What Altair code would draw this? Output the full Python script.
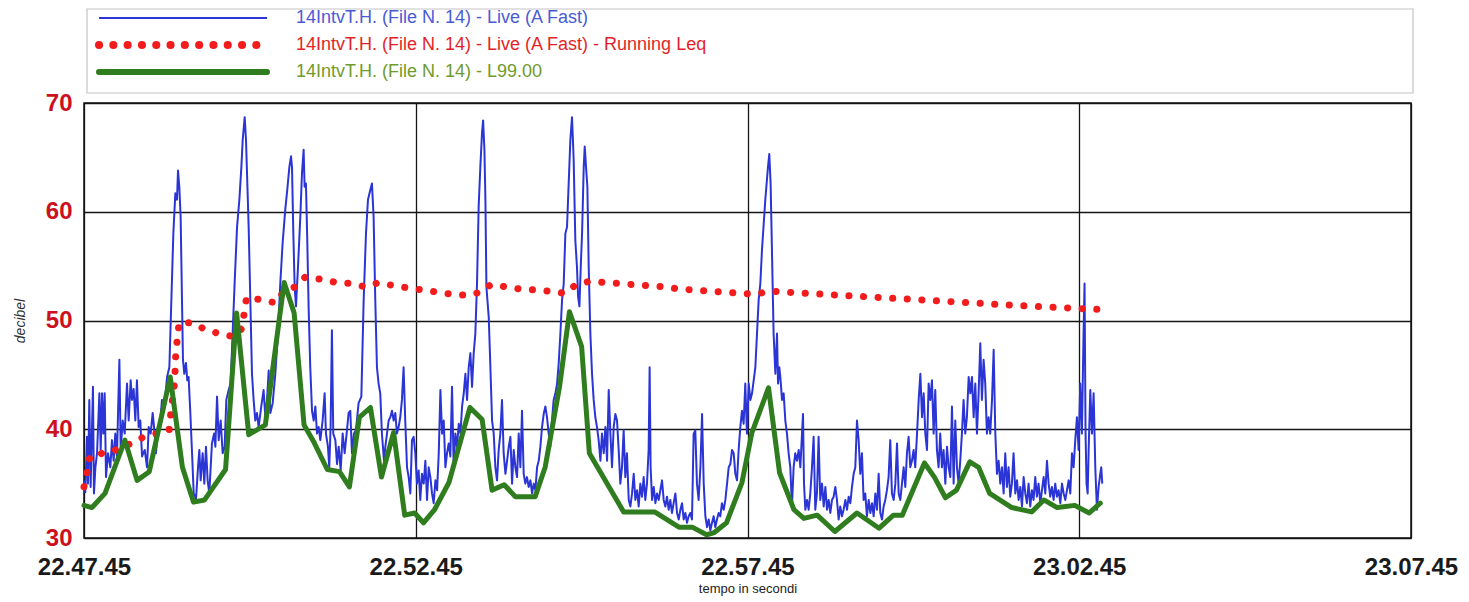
import json
import altair as alt
import pandas as pd

# ---------------- data ----------------
series_names = [
    "14IntvT.H. (File N. 14) - Live (A Fast)",
    "14IntvT.H. (File N. 14) - Live (A Fast) - Running Leq",
    "14IntvT.H. (File N. 14) - L99.00",
]
tick_seconds = [0, 300, 600, 900, 1200]
tick_labels = ["22.47.45", "22.52.45", "22.57.45", "23.02.45", "23.07.45"]
db_ticks = [30, 40, 50, 60, 70]

# (seconds from 22.47.45, dB)
live_fast = [
    (0, 35.3), (1.2, 34.2), (2.7, 39.3), (3.6, 35.0), (4.8, 42.7), (6.0, 34.7), (8.1, 43.9), (9.0, 34.1),
    (10.3, 36.5), (11.8, 37.8), (13.9, 43.3), (15.1, 38.1), (16.3, 43.3), (17.5, 39.6), (18.7, 43.3),
    (19.9, 35.6), (21.7, 37.8), (23.8, 36.5), (25.3, 39.0), (26.8, 37.1), (28.3, 39.6), (29.8, 37.5),
    (32.0, 46.4), (33.2, 38.1), (35.0, 40.8), (36.8, 39.6), (38.9, 44.2), (40.4, 40.8), (42.2, 44.5),
    (43.4, 42.7), (44.9, 43.7), (46.4, 40.8), (47.9, 44.5), (49.4, 40.2), (50.9, 40.8), (52.5, 37.5),
    (54.9, 38.1), (57.0, 36.5), (58.5, 40.2), (60.3, 39.6), (62.1, 41.5), (63.9, 39.6), (65.1, 37.8),
    (66.9, 40.2), (69.0, 40.8), (70.5, 42.7), (73.0, 42.4), (75.1, 44.8), (77.2, 45.7), (79.0, 51.9),
    (80.8, 58.0), (82.6, 61.7), (84.1, 61.1), (85.0, 63.8), (86.2, 62.3), (87.4, 59.5), (88.6, 51.9),
    (89.5, 46.4), (90.7, 45.1), (92.2, 46.1), (93.4, 44.5), (94.6, 44.8), (96.2, 41.4), (97.7, 37.8),
    (99.2, 34.1), (101.3, 33.6), (103.1, 36.5), (104.3, 38.1), (105.5, 35.3), (107.3, 37.8), (108.8, 35.0),
    (110.3, 38.4), (111.8, 35.3), (113.3, 34.1), (115.7, 38.7), (117.6, 39.6), (118.8, 38.4), (120.3, 43.0),
    (121.8, 39.0), (123.6, 40.8), (125.4, 37.8), (127.2, 38.4), (128.7, 42.7), (130.8, 43.6), (132.6, 44.2),
    (134.4, 48.8), (136.2, 53.4), (138.4, 58.6), (140.5, 61.1), (142.3, 64.1), (143.5, 66.6), (145.3, 68.7),
    (146.5, 66.6), (147.7, 62.6), (148.9, 58.6), (150.4, 51.9), (151.9, 45.1), (153.4, 42.7),
    (154.9, 40.8), (156.4, 41.5), (157.9, 40.2), (160.3, 42.1), (162.4, 43.6), (164.0, 41.1), (165.5, 42.7),
    (167.0, 45.4), (168.5, 41.5), (170.6, 42.4), (173.0, 45.1), (175.4, 48.8), (177.5, 53.4), (179.6, 57.1),
    (182.0, 60.2), (183.8, 62.0), (185.7, 64.1), (187.2, 65.1), (188.1, 64.1), (189.3, 58.0), (190.5, 53.1),
    (191.7, 51.3), (193.5, 54.9), (195.6, 59.5), (197.1, 63.5), (198.6, 65.7), (199.5, 62.3), (200.7, 62.6),
    (201.9, 57.4), (203.1, 51.3), (204.6, 45.7), (206.2, 41.7), (207.7, 40.8), (209.2, 42.1), (210.7, 39.6),
    (212.2, 40.2), (213.7, 39.0), (215.8, 40.8), (217.6, 43.3), (218.8, 39.6), (220.6, 38.4), (221.8, 36.5),
    (223.0, 40.2), (224.2, 49.1), (225.4, 39.6), (227.3, 39.0), (228.8, 36.8), (230.3, 38.4), (232.1, 36.2),
    (233.9, 39.6), (235.7, 37.8), (237.5, 39.6), (239.3, 41.5), (240.8, 41.7), (242.3, 37.8), (244.1, 39.6),
    (245.9, 39.9), (248.3, 42.4), (250.8, 43.0), (252.9, 51.9), (255.0, 58.0), (256.8, 61.1), (258.9, 62.0),
    (260.4, 62.6), (261.9, 59.5), (263.4, 51.9), (264.9, 45.7), (266.4, 44.2), (267.9, 43.3), (269.4, 39.6),
    (271.3, 37.1), (272.5, 38.4), (274.0, 39.6), (275.5, 40.8), (277.0, 41.1), (278.5, 41.7), (280.0, 40.8),
    (281.5, 41.5), (283.0, 39.6), (284.5, 40.2), (286.0, 41.1), (287.5, 42.7), (289.0, 45.7), (290.5, 40.8),
    (292.1, 36.5), (293.6, 35.6), (295.1, 34.1), (296.6, 39.0), (298.1, 39.3), (299.6, 37.8), (301.1, 35.0),
    (302.6, 36.2), (304.1, 33.5), (305.6, 35.9),
    (307.2, 35.0), (308.7, 37.1), (310.2, 33.5), (311.7, 36.5), (313.2, 35.6), (314.7, 34.1), (316.2, 33.2),
    (317.8, 35.3), (319.3, 34.4), (320.8, 37.8), (322.3, 43.6), (323.8, 39.6), (325.3, 40.8), (326.8, 36.5),
    (328.3, 37.8), (329.8, 38.7), (331.3, 37.5), (332.8, 43.9), (334.3, 36.5), (335.8, 39.6), (337.3, 38.4),
    (338.9, 40.5), (340.4, 39.6), (341.9, 42.1), (343.4, 43.3), (344.9, 45.1), (346.4, 42.7), (347.9, 45.7),
    (349.4, 47.0), (350.9, 43.9), (352.4, 47.0), (353.9, 48.8), (355.4, 53.4), (356.9, 60.5), (358.4, 64.1),
    (359.9, 67.2), (360.9, 68.4), (362.1, 65.7), (363.0, 61.1), (363.9, 53.1), (364.8, 51.9), (366.0, 50.3),
    (367.5, 45.7), (369.0, 40.8), (370.5, 39.6), (372.0, 36.5), (373.5, 35.3), (375.0, 38.1), (376.5, 39.6),
    (378.0, 42.7), (379.5, 37.8), (381.1, 35.9), (382.6, 37.1), (384.1, 38.4), (385.6, 39.3), (387.1, 35.0),
    (388.6, 38.1), (390.1, 36.5), (391.6, 35.6), (393.1, 39.6), (394.6, 36.5), (396.1, 41.7), (397.6, 35.9),
    (399.1, 35.0), (400.6, 35.6), (402.1, 34.7), (403.7, 35.3), (405.2, 34.1), (406.7, 35.0), (408.2, 34.4),
    (409.7, 36.5), (411.2, 37.1), (412.7, 38.4), (414.2, 40.2), (415.7, 41.4), (417.2, 42.1), (418.7, 41.1),
    (420.2, 39.6), (421.7, 38.4), (423.2, 40.8), (424.7, 42.7), (426.3, 43.3), (427.8, 44.2), (429.3, 46.1),
    (430.8, 48.8), (432.3, 51.9), (433.8, 53.4), (435.3, 58.0), (436.8, 58.6), (438.3, 62.6), (439.8, 66.6),
    (441.3, 68.7), (442.8, 64.8), (444.3, 57.4), (445.8, 54.9), (446.8, 52.2), (448.0, 51.3), (449.2, 54.9),
    (450.4, 58.0), (451.9, 64.1), (452.8, 66.0), (454.0, 64.1), (455.2, 62.3), (456.4, 54.9), (457.9, 48.8),
    (459.4, 45.1), (460.9, 42.7),
    (462.4, 41.1), (463.9, 40.2), (465.4, 39.0), (467.0, 37.1), (468.4, 39.6), (470.0, 37.8), (471.5, 40.2),
    (473.0, 37.1), (474.5, 43.6), (476.0, 39.6), (477.5, 36.5), (479.0, 40.2), (480.5, 41.4), (482.0, 40.8),
    (483.5, 38.1), (485.0, 35.0), (486.5, 36.5), (488.0, 39.9), (489.5, 35.6), (491.0, 37.8), (492.6, 33.5),
    (494.1, 32.9), (495.6, 34.1), (497.1, 35.9), (498.6, 33.5), (500.1, 34.4), (501.6, 32.9), (503.1, 35.0),
    (504.6, 33.8), (506.1, 35.6), (507.6, 33.5), (509.1, 35.0), (510.6, 38.1), (511.5, 45.7), (512.4, 36.5),
    (513.7, 33.5), (515.2, 34.7), (516.7, 33.2), (518.2, 34.1), (519.7, 33.5), (521.2, 34.4), (522.7, 35.3),
    (524.2, 33.5), (525.7, 32.9), (527.2, 33.8), (528.7, 32.6), (530.2, 33.5), (531.7, 32.3), (533.2, 33.2),
    (534.8, 34.1), (536.3, 32.3), (537.8, 31.7), (539.3, 32.6), (540.8, 33.2), (542.3, 31.7), (543.8, 32.3),
    (545.3, 31.4), (546.8, 32.0), (548.3, 32.3), (549.8, 31.7), (551.3, 39.6), (552.8, 39.9), (554.3, 35.0),
    (555.8, 33.5), (557.4, 36.5), (558.9, 41.4), (560.4, 35.0), (561.9, 32.0), (563.4, 31.0), (564.9, 31.7),
    (566.4, 30.7), (567.9, 31.4), (569.4, 32.0), (570.9, 31.0), (572.4, 31.7), (573.9, 32.3), (575.4, 32.0),
    (576.9, 33.2), (578.5, 32.6), (580.0, 33.5), (581.5, 35.0), (583.0, 36.5), (584.5, 36.8), (586.0, 38.1),
    (587.5, 37.8), (589.0, 35.9), (590.5, 35.3), (592.0, 38.1), (593.5, 40.2), (595.0, 41.7), (596.5, 40.5),
    (598.0, 44.2), (599.5, 39.6), (601.1, 44.2), (602.6, 42.7), (604.1, 43.3), (607.1, 45.7), (608.6, 48.8),
    (610.1, 51.9), (611.6, 53.4), (613.1, 56.5),
    (616.1, 61.1), (618.5, 64.1), (619.7, 65.3), (620.9, 62.6), (622.1, 56.5), (623.6, 48.8), (625.2, 45.1),
    (626.7, 48.8), (627.6, 44.2), (628.8, 45.7), (629.7, 44.8), (631.2, 42.7), (632.7, 43.3), (634.2, 40.8),
    (635.7, 39.6), (637.2, 37.8), (638.7, 36.5), (640.2, 32.9), (641.7, 36.5), (643.2, 37.8), (644.7, 37.1),
    (646.3, 38.1), (647.8, 36.5), (649.3, 39.6), (650.2, 41.4), (651.1, 35.0), (652.3, 32.6), (653.8, 33.5),
    (655.3, 32.6), (656.8, 34.1), (658.3, 36.5), (659.8, 39.3), (661.3, 32.6), (662.8, 34.1), (664.3, 39.3),
    (665.8, 33.5), (667.4, 35.0), (668.9, 32.9), (670.4, 34.7), (671.9, 32.6), (673.4, 33.5), (674.9, 32.3),
    (676.4, 33.5), (677.9, 33.8), (679.4, 34.7), (680.9, 33.5), (682.4, 31.7), (683.9, 32.9), (685.4, 32.0),
    (686.9, 32.6), (688.5, 33.5), (690.0, 32.6), (691.5, 33.8), (693.0, 33.2), (694.5, 34.7), (696.0, 35.9),
    (697.5, 36.5), (699.0, 40.8), (700.5, 39.0), (702.0, 35.9), (703.5, 37.8), (705.0, 33.5), (706.5, 34.1),
    (708.0, 32.0), (709.6, 33.5), (711.1, 32.3), (712.6, 33.2), (714.1, 32.0), (715.6, 34.1), (717.1, 32.6),
    (718.6, 35.9), (720.1, 32.3), (721.6, 31.7), (723.1, 32.9), (724.6, 33.5), (726.1, 34.4), (727.6, 35.6),
    (729.1, 39.0), (730.6, 34.1), (732.2, 33.5), (733.7, 35.0), (735.2, 38.7), (736.7, 34.1), (738.2, 33.5),
    (739.7, 35.0), (741.2, 36.5), (742.7, 34.7), (744.2, 37.8), (745.7, 39.3), (747.2, 36.5), (748.7, 37.1),
    (750.2, 38.1), (751.7, 36.5), (753.3, 39.6), (754.8, 42.7), (756.3, 45.1), (757.8, 41.1), (759.3, 43.3),
    (760.8, 39.6), (762.3, 38.1), (763.8, 44.2), (765.3, 42.7), (766.8, 44.5),
    (768.3, 39.6), (769.8, 43.6), (771.3, 38.1), (772.8, 36.5), (774.3, 39.6), (775.8, 36.5), (777.3, 38.1),
    (778.9, 35.0), (780.4, 38.4), (781.9, 36.5), (783.4, 35.6), (784.9, 42.1), (786.4, 35.0), (787.9, 40.8),
    (789.4, 36.5), (790.9, 35.0), (792.4, 37.1), (793.9, 39.6), (795.4, 42.7), (796.9, 39.6), (798.4, 41.1),
    (800.0, 44.8), (801.5, 43.3), (803.0, 44.8), (804.5, 41.1), (806.0, 44.2), (807.5, 39.6), (809.0, 43.3),
    (810.5, 47.9), (812.0, 42.7), (813.5, 46.4), (815.0, 44.2), (816.5, 39.6), (818.0, 41.1), (819.5, 39.6),
    (821.1, 42.7), (822.6, 47.3), (824.1, 39.6), (825.6, 35.9), (827.1, 37.1), (828.6, 35.0), (830.1, 36.5),
    (831.6, 34.1), (833.1, 37.8), (834.6, 34.7), (836.1, 36.5), (837.6, 33.8), (839.1, 35.0), (840.6, 37.8),
    (842.2, 34.1), (843.7, 35.3), (845.2, 33.5), (846.7, 34.7), (848.2, 32.9), (849.7, 35.6), (851.2, 34.1),
    (852.7, 33.2), (854.2, 35.0), (855.7, 32.9), (857.2, 34.4), (858.7, 33.5), (860.2, 35.6), (861.7, 33.8),
    (863.2, 35.0), (864.8, 33.2), (866.3, 34.4), (867.8, 35.6), (869.3, 34.1), (870.8, 37.1), (872.3, 35.0),
    (873.8, 33.8), (875.3, 34.7), (876.8, 33.5), (878.3, 35.0), (879.8, 33.8), (881.3, 34.4), (882.9, 33.2),
    (884.4, 35.0), (885.9, 34.1), (887.4, 33.5), (888.9, 34.4), (890.4, 35.3), (891.9, 34.1), (893.4, 37.8),
    (894.9, 36.5), (896.4, 39.0), (897.9, 41.1), (899.4, 38.1), (900.9, 44.2), (902.4, 39.6), (903.9, 48.8),
    (904.8, 53.4), (905.7, 39.6), (906.6, 35.0), (907.6, 34.1), (908.5, 38.1), (910.0, 43.6), (911.5, 39.6),
    (913.0, 43.3), (914.5, 36.5), (916.0, 32.6), (917.5, 34.7), (919.0, 35.9), (919.9, 36.5), (920.8, 35.0),
]

running_leq = [
    (0, 34.7), (2.7, 36.0), (4.5, 37.3), (10, 37.2), (16, 37.8), (24, 37.9), (45, 38.8), (54, 39.3),
    (77, 39.9), (78.5, 41.5), (82, 44.3), (83, 47.0), (86, 49.8), (98, 49.8), (109, 49.2), (122, 48.8),
    (136, 48.5), (143, 49.3), (145, 50.8), (147, 52.1), (161, 51.9), (174, 51.6), (180, 52.6), (191, 53.1),
    (200, 54.0), (214, 53.8), (228, 53.5), (241, 53.4), (254, 53.1), (267, 53.5), (280, 53.2), (293, 53.0),
    (307, 52.8), (320, 52.6), (334, 52.4), (347, 52.3), (358, 52.6), (368, 53.3), (381, 53.1), (394, 52.9),
    (408, 52.8), (420, 52.7), (435, 52.5), (445, 53.3), (457, 53.6), (470, 53.5), (484, 53.4), (497, 53.3),
    (511, 53.2), (524, 53.1), (538, 52.9), (552, 52.8), (566, 52.7), (580, 52.6), (594, 52.5), (607, 52.4),
    (619, 52.7), (687, 52.3), (756, 51.9), (840, 51.4), (921, 51.0),
]

l99 = [
    (0, 33.0), (7.2, 32.8), (19, 34.1), (37, 39.0), (48, 35.3), (59, 36.1), (78, 44.8), (89, 36.5),
    (99, 33.3), (109, 33.5), (128, 36.3), (138, 50.7), (149, 39.5), (164, 40.4), (181, 53.5), (190, 50.7),
    (199, 40.4), (208, 38.8), (220, 36.3), (231, 36.1), (240, 34.7), (249, 41.1), (259, 42.0), (269, 35.6),
    (280, 39.7), (290, 32.1), (299, 32.3), (307, 31.4), (317, 32.6), (330, 35.1), (349, 42.0), (360, 40.9),
    (369, 34.4), (380, 34.9), (390, 33.8), (408, 33.8), (417, 36.5), (430, 43.9), (439, 50.8), (450, 47.6),
    (457, 37.8), (488, 32.4), (516, 32.4), (538, 31.0), (550, 31.0), (563, 30.3), (570, 30.5), (581, 31.4),
    (595, 35.1), (604, 39.7), (619, 43.8), (629, 36.0), (642, 32.6), (651, 31.8), (663, 32.1), (679, 30.6),
    (699, 32.3), (719, 30.9), (732, 32.1), (740, 32.1), (760, 36.9), (769, 35.6), (779, 33.7), (789, 34.4),
    (801, 37.0), (809, 36.5), (819, 34.1), (839, 32.8), (857, 32.4), (868, 33.5), (880, 32.8), (896, 33.0),
    (909, 32.3), (919, 33.2),
]

# ---------------- styles ----------------
series_colors = ["#2b35d6", "#f21c1c", "#2f7d1e"]
label_colors = ["#4a5bd6", "#e41f28", "#6f9a2c"]
FONT = "Liberation Sans, Arial, Helvetica, sans-serif"

rows = []
for name, pts in zip(series_names, [live_fast, running_leq, l99]):
    for t, v in pts:
        rows.append({"series": name, "t": t, "db": v})
df = pd.DataFrame(rows)
legend_df = pd.DataFrame({"series": series_names})

color_scale = alt.Scale(domain=series_names, range=series_colors)
label_expr = "%s[indexof(%s, datum.value)]" % (json.dumps(tick_labels), json.dumps(tick_seconds))

x_enc = alt.X(
    "t:Q",
    scale=alt.Scale(domain=[0, 1200], nice=False, zero=False),
    axis=alt.Axis(
        values=tick_seconds, labelExpr=label_expr, title="tempo in secondi",
        grid=True, ticks=False, domain=False, labelFlush=False, labelOverlap=False,
        labelFont=FONT, labelFontSize=24, labelFontWeight="bold", labelColor="#1a1a1a",
        labelPadding=17, titleFont=FONT, titleFontSize=13, titleFontWeight="normal",
        titleColor="#222", titlePadding=3,
    ),
)
y_enc = alt.Y(
    "db:Q",
    scale=alt.Scale(domain=[30, 70], nice=False, zero=False),
    axis=alt.Axis(
        values=db_ticks, title="decibel", grid=True, ticks=False, domain=False,
        labelFont=FONT, labelFontSize=24, labelFontWeight="bold", labelColor="#cc1020",
        labelPadding=12, titleFont=FONT, titleFontSize=14, titleFontStyle="italic",
        titleFontWeight="normal", titleColor="#333", titlePadding=18,
    ),
)
color_enc = alt.Color("series:N", scale=color_scale, legend=None)

base = alt.Chart(df)
blue = base.transform_filter(alt.FieldEqualPredicate(field="series", equal=series_names[0])).mark_line(
    strokeWidth=2, strokeJoin="round").encode(x=x_enc, y=y_enc, color=color_enc)
red = base.transform_filter(alt.FieldEqualPredicate(field="series", equal=series_names[1])).mark_line(
    strokeWidth=7, strokeDash=[0.1, 14.5], strokeCap="round").encode(x=x_enc, y=y_enc, color=color_enc)
green = base.transform_filter(alt.FieldEqualPredicate(field="series", equal=series_names[2])).mark_line(
    strokeWidth=5, strokeJoin="round", strokeCap="round").encode(x=x_enc, y=y_enc, color=color_enc)

# ---------------- legend (drawn above the plot) ----------------
leg_base = alt.Chart(legend_df)
box = leg_base.transform_filter(alt.FieldEqualPredicate(field="series", equal=series_names[0])).mark_rect(
    fill="white", stroke="#c4c4c4", strokeWidth=1.2).encode(
    x=alt.value(3), x2=alt.value(1329), y=alt.value(-94), y2=alt.value(-10))

leg_y = [-85, -58, -31]
leg_styles = [
    dict(strokeWidth=2),
    dict(strokeWidth=8, strokeDash=[0.1, 14.2], strokeCap="round"),
    dict(strokeWidth=6, strokeCap="round"),
]
legend_layers = [box]
for name, ly, sty, lc in zip(series_names, leg_y, leg_styles, label_colors):
    sel = leg_base.transform_filter(alt.FieldEqualPredicate(field="series", equal=name))
    legend_layers.append(
        sel.mark_rule(**sty).encode(x=alt.value(15), x2=alt.value(183), y=alt.value(ly), color=color_enc)
    )
    legend_layers.append(
        sel.mark_text(align="left", baseline="middle", font=FONT, fontSize=18, color=lc).encode(
            x=alt.value(212), y=alt.value(ly), text="series:N")
    )

chart = alt.layer(blue, red, green, *legend_layers).properties(
    width=1327, height=435,
    autosize=alt.AutoSizeParams(type="none"),
    padding={"left": 76, "top": 95, "right": 50, "bottom": 64},
    background="white",
).configure_view(stroke="#111", strokeWidth=1.5).configure_axis(
    gridColor="#151515", gridWidth=1.3, gridOpacity=1
)

chart.save("out.html", embed_options={"renderer": "svg", "actions": False})
